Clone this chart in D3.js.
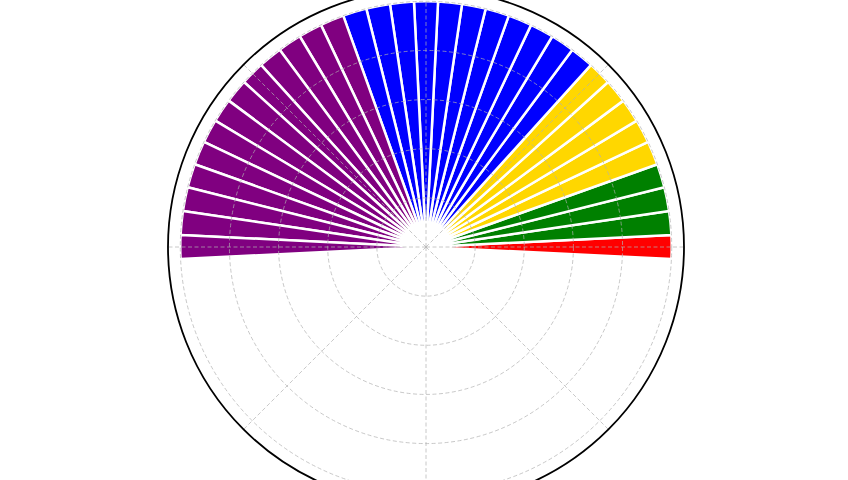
<!DOCTYPE html>
<html>
<head>
<meta charset="utf-8">
<script src="https://cdn.jsdelivr.net/npm/d3@7"></script>
<style>
html,body{margin:0;padding:0;background:#fff;overflow:hidden;}
svg{display:block;}
</style>
</head>
<body>
<svg id="chart" width="848" height="480"></svg>
<script>
// Bar angle positions (degrees, counter-clockwise from east)
const angles = [0, 5.625, 11.25, 16.875, 22.5, 28.125, 33.75, 39.375, 45, 50.625,
  56.25, 61.875, 67.5, 73.125, 78.75, 84.375, 90, 95.625, 101.25, 106.875,
  112.5, 118.125, 123.75, 129.375, 135, 140.625, 146.25, 151.875, 157.5,
  163.125, 168.75, 174.375, 180];
// Bar lengths (radial values)
const values = [100, 100, 100, 100, 100, 100, 100, 100, 100, 100,
  100, 100, 100, 100, 100, 100, 100, 100, 100, 100,
  100, 100, 100, 100, 100, 100, 100, 100, 100,
  100, 100, 100, 100];
// Colour group of each bar
const groups = ["red", "green", "green", "green", "gold", "gold", "gold", "gold", "gold", "blue",
  "blue", "blue", "blue", "blue", "blue", "blue", "blue", "blue", "blue", "blue",
  "purple", "purple", "purple", "purple", "purple", "purple", "purple", "purple", "purple",
  "purple", "purple", "purple", "purple"];
const groupNames = ["red", "green", "gold", "blue", "purple"];
const groupColors = ["#ff0000", "#008000", "#ffd700", "#0000ff", "#800080"];
const barWidthDeg = 5.625;
const ringTicks = [20, 40, 60, 80, 100];
const spokeTicks = [0, 45, 90, 135, 180, 225, 270, 315];
const rMax = 105;

const cx = 426, cy = 247, R = 258;
const svg = d3.select("#chart");
const g = svg.append("g").attr("transform", `translate(${cx},${cy})`);

const r = d3.scaleLinear().domain([0, rMax]).range([0, R]);
const color = d3.scaleOrdinal().domain(groupNames).range(groupColors);
// convert math angle (deg, ccw from east) to d3 angle (rad, cw from north)
const toD3 = deg => Math.PI / 2 - deg * Math.PI / 180;

const arc = d3.arc();
const data = angles.map((a, i) => ({angle: a, value: values[i], group: groups[i]}));

g.selectAll("path.bar").data(data).join("path")
  .attr("class", "bar")
  .attr("d", d => arc({
    innerRadius: 0,
    outerRadius: r(d.value),
    startAngle: toD3(d.angle + barWidthDeg / 2),
    endAngle: toD3(d.angle - barWidthDeg / 2)
  }))
  .attr("fill", d => color(d.group))
  .attr("stroke", "#ffffff")
  .attr("stroke-width", 2.5)
  .attr("stroke-linejoin", "bevel");

// grid on top
const grid = g.append("g")
  .attr("fill", "none")
  .attr("stroke", "#b0b0b0")
  .attr("stroke-opacity", 0.7)
  .attr("stroke-width", 1)
  .attr("stroke-dasharray", "4,2.5");

grid.selectAll("circle").data(ringTicks).join("circle")
  .attr("r", d => r(d));

grid.selectAll("line").data(spokeTicks).join("line")
  .attr("x1", 0).attr("y1", 0)
  .attr("x2", d => r(rMax) * Math.cos(d * Math.PI / 180))
  .attr("y2", d => -r(rMax) * Math.sin(d * Math.PI / 180));

// outer frame
g.append("circle")
  .attr("r", r(rMax))
  .attr("fill", "none")
  .attr("stroke", "#000")
  .attr("stroke-width", 1.8);
</script>
</body>
</html>
